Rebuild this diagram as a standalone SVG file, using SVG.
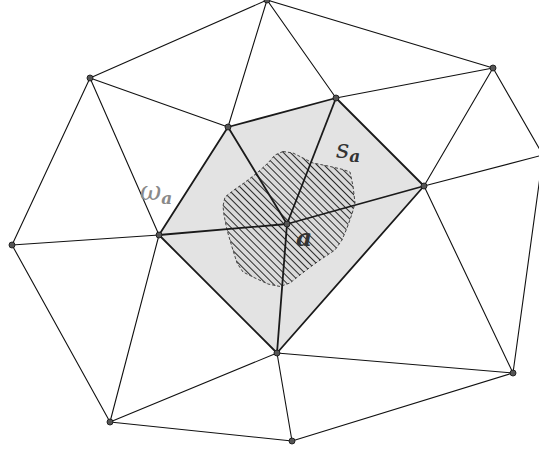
<svg xmlns="http://www.w3.org/2000/svg" width="539" height="453" viewBox="0 0 539 453">
<style>
.e{stroke:#111;stroke-width:1.1;fill:none;stroke-linecap:round}
.t{stroke:#1a1a1a;stroke-width:1.8;fill:none;stroke-linecap:round}
.n{fill:#555;stroke:#1a1a1a;stroke-width:0.9}
.lbl{font-family:"DejaVu Serif","Liberation Serif",serif;font-style:italic}
</style>
<defs>
<pattern id="hatch" width="5" height="5" patternUnits="userSpaceOnUse" patternTransform="rotate(45)">
<rect width="5" height="5" fill="#dadada"/>
<line x1="0" y1="2.5" x2="5" y2="2.5" stroke="#2a2a2a" stroke-width="1"/>
</pattern>
</defs>
<rect width="539" height="453" fill="#fff"/>
<g id="patch-omega">
<polygon points="228,127 336,98 424,186 277,353 159,235" fill="#e3e3e3"/>
</g>
<g id="support-s">
<path d="M283,151.5 L293,153 L303,158 L313,163 L328,166 L343,169.5 L350,172 L353,186 L355,203 L352,214 L347,228 L342,240 L335,250 L323,258 L313,265 L300,275 L290,283 L280,286.5 L268,284 L255,278 L243,272 L237,263 L232,247 L227,230 L224,215 L223,206 L225,197 L234,190 L244,183 L257,173 L268,163 L275,155 Z" fill="url(#hatch)" stroke="#444" stroke-width="1" stroke-dasharray="3,2"/>
</g>
<g id="connectors">
<line class="e" x1="267" y1="0" x2="90" y2="78"/>
<line class="e" x1="267" y1="0" x2="228" y2="127"/>
<line class="e" x1="267" y1="0" x2="336" y2="98"/>
<line class="e" x1="267" y1="0" x2="493" y2="68"/>
<line class="e" x1="90" y1="78" x2="228" y2="127"/>
<line class="e" x1="90" y1="78" x2="159" y2="235"/>
<line class="e" x1="90" y1="78" x2="12" y2="245"/>
<line class="e" x1="336" y1="98" x2="493" y2="68"/>
<line class="e" x1="493" y1="68" x2="424" y2="186"/>
<line class="e" x1="493" y1="68" x2="543" y2="155"/>
<line class="e" x1="424" y1="186" x2="543" y2="155"/>
<line class="e" x1="424" y1="186" x2="513" y2="373"/>
<line class="e" x1="513" y1="373" x2="543" y2="155"/>
<line class="e" x1="12" y1="245" x2="159" y2="235"/>
<line class="e" x1="12" y1="245" x2="110" y2="422"/>
<line class="e" x1="159" y1="235" x2="110" y2="422"/>
<line class="e" x1="110" y1="422" x2="277" y2="353"/>
<line class="e" x1="110" y1="422" x2="292" y2="441"/>
<line class="e" x1="277" y1="353" x2="292" y2="441"/>
<line class="e" x1="277" y1="353" x2="513" y2="373"/>
<line class="e" x1="292" y1="441" x2="513" y2="373"/>
<line class="t" x1="228" y1="127" x2="336" y2="98"/>
<line class="t" x1="336" y1="98" x2="424" y2="186"/>
<line class="t" x1="424" y1="186" x2="277" y2="353"/>
<line class="t" x1="277" y1="353" x2="159" y2="235"/>
<line class="t" x1="159" y1="235" x2="228" y2="127"/>
<line class="t" x1="287" y1="224" x2="228" y2="127"/>
<line class="t" x1="287" y1="224" x2="336" y2="98"/>
<line class="t" x1="287" y1="224" x2="424" y2="186"/>
<line class="t" x1="287" y1="224" x2="277" y2="353"/>
<line class="t" x1="287" y1="224" x2="159" y2="235"/>
</g>
<g id="node-T"><circle class="n" cx="267" cy="0" r="3"/></g>
<g id="node-A"><circle class="n" cx="90" cy="78" r="3"/></g>
<g id="node-B"><circle class="n" cx="228" cy="127" r="3"/></g>
<g id="node-C"><circle class="n" cx="336" cy="98" r="3"/></g>
<g id="node-D"><circle class="n" cx="493" cy="68" r="3"/></g>
<g id="node-F"><circle class="n" cx="424" cy="186" r="3"/></g>
<g id="node-G"><circle class="n" cx="159" cy="235" r="3"/></g>
<g id="node-H"><circle class="n" cx="12" cy="245" r="3"/></g>
<g id="node-a"><circle class="n" cx="287" cy="224" r="3"/></g>
<g id="node-I"><circle class="n" cx="277" cy="353" r="3"/></g>
<g id="node-J"><circle class="n" cx="513" cy="373" r="3"/></g>
<g id="node-K"><circle class="n" cx="110" cy="422" r="3"/></g>
<g id="node-L"><circle class="n" cx="292" cy="441" r="3"/></g>
<g id="labels">
<text class="lbl" x="140" y="200" font-size="26" fill="#8a8a8a">ω<tspan font-size="17" font-weight="bold" dy="4">a</tspan></text>
<text class="lbl" x="336" y="158" font-size="26" fill="#333">s<tspan font-size="17" font-weight="bold" dy="4">a</tspan></text>
<text class="lbl" x="296" y="246" font-size="25" font-weight="bold" fill="#333">a</text>
</g>
</svg>
